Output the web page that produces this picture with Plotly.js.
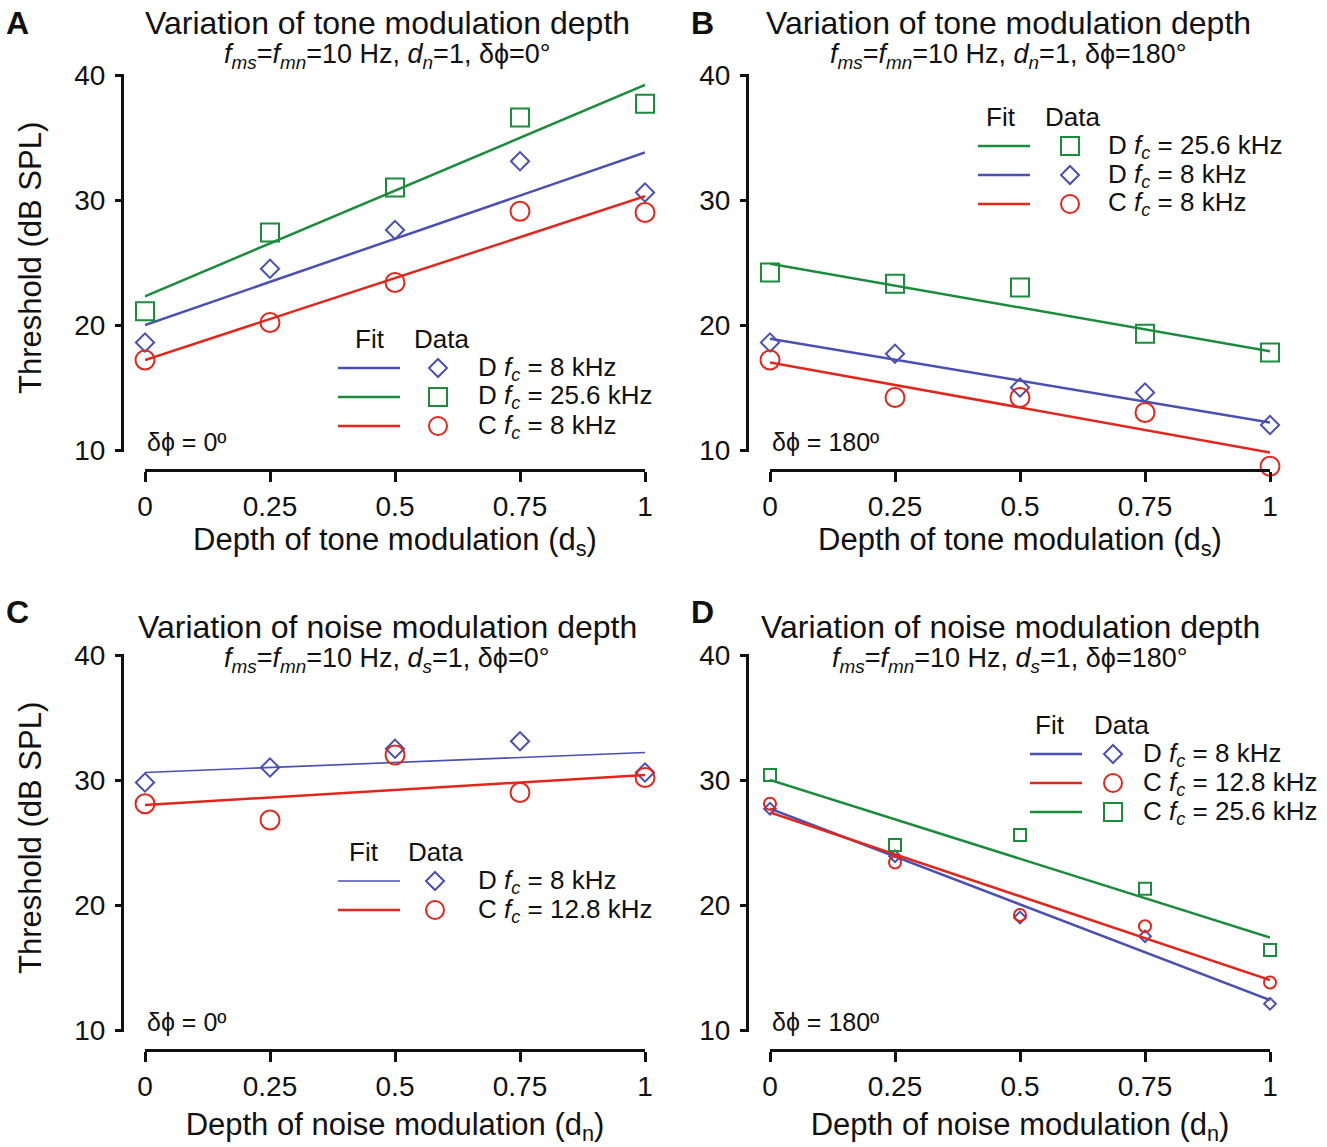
<!DOCTYPE html>
<html>
<head>
<meta charset="utf-8">
<script src="https://cdn.plot.ly/plotly-3.0.1.min.js"></script>
<style>html,body{margin:0;padding:0;background:#fff}#chart{width:1327px;height:1147px}</style>
</head>
<body>
<div id="chart"></div>
<script>
// ---------- data ----------
const depth = [0, 0.25, 0.5, 0.75, 1];
const fitX = [0, 1];
const xTickVals = [0, 0.25, 0.5, 0.75, 1];
const xTickText = ['0', '0.25', '0.5', '0.75', '1'];
const yTickVals = [10, 20, 30, 40];

// Panel A: tone modulation depth, δϕ = 0°
const aD8 = [18.6, 24.5, 27.6, 33.1, 30.6];
const aD8Fit = [20.0, 33.8];
const aD256 = [21.1, 27.4, 31.0, 36.6, 37.7];
const aD256Fit = [22.3, 39.2];
const aC8 = [17.2, 20.2, 23.4, 29.1, 29.0];
const aC8Fit = [17.2, 30.3];

// Panel B: tone modulation depth, δϕ = 180°
const bD256 = [24.2, 23.3, 23.0, 19.3, 17.8];
const bD256Fit = [24.9, 17.9];
const bD8 = [18.6, 17.7, 15.0, 14.6, 12.0];
const bD8Fit = [18.9, 12.2];
const bC8 = [17.2, 14.2, 14.2, 13.0, 8.7];
const bC8Fit = [17.0, 9.8];

// Panel C: noise modulation depth, δϕ = 0°
const cD8 = [29.8, 31.0, 32.5, 33.1, 30.6];
const cD8Fit = [30.6, 32.2];
const cC128 = [28.1, 26.8, 32.0, 29.0, 30.2];
const cC128Fit = [28.0, 30.4];

// Panel D: noise modulation depth, δϕ = 180°
const dD8 = [27.7, 23.9, 19.0, 17.5, 12.1];
const dD8Fit = [27.7, 12.4];
const dC128 = [28.1, 23.4, 19.2, 18.3, 13.8];
const dC128Fit = [27.4, 14.0];
const dC256 = [30.4, 24.8, 25.6, 21.3, 16.4];
const dC256Fit = [30.0, 17.4];

// ---------- styling ----------
const W = 1327, H = 1147;
const GREEN = '#1b8c3c', BLUE = '#4a4fb2', RED = '#e1271c';
const FONT = 'Liberation Sans, Arial, Helvetica, sans-serif';
const px = v => v / W;
const py = v => 1 - v / H;
const PXPERDB = 12.5;   // 375 px for 30 dB
const EXTRA = 20;       // extra plot height below 10 dB (px)

const traces = [];
function addSeries(ax, ys, fitYs, color, symbol, size, lw) {
  traces.push({x: fitX, y: fitYs, xaxis: 'x' + ax, yaxis: 'y' + ax, type: 'scatter', mode: 'lines',
    showlegend: false, hoverinfo: 'skip', line: {color: color, width: lw}});
  traces.push({x: depth, y: ys, xaxis: 'x' + ax, yaxis: 'y' + ax, type: 'scatter', mode: 'markers',
    cliponaxis: false, showlegend: false, hoverinfo: 'skip',
    marker: {symbol: symbol, size: size, color: color, line: {color: color, width: 2}}});
}
addSeries('', aD8, aD8Fit, BLUE, 'diamond-open', 14, 2.5);
addSeries('', aD256, aD256Fit, GREEN, 'square-open', 18, 2.5);
addSeries('', aC8, aC8Fit, RED, 'circle-open', 19, 2.5);

addSeries('2', bD256, bD256Fit, GREEN, 'square-open', 18, 2.5);
addSeries('2', bD8, bD8Fit, BLUE, 'diamond-open', 14, 2.5);
addSeries('2', bC8, bC8Fit, RED, 'circle-open', 19, 2.5);

addSeries('3', cD8, cD8Fit, BLUE, 'diamond-open', 14, 1.6);
addSeries('3', cC128, cC128Fit, RED, 'circle-open', 19, 2.5);

addSeries('4', dD8, dD8Fit, BLUE, 'diamond-open', 9, 2.5);
addSeries('4', dC128, dC128Fit, RED, 'circle-open', 12, 2.5);
addSeries('4', dC256, dC256Fit, GREEN, 'square-open', 12, 2.5);

const panels = [
  {k: '', xl: 145, xr: 645, yt: 75, yb: 450, yAx: 124, xAx: 470, xt: 'Depth of tone modulation (d<sub>s</sub>)', yt2: true, st: 6},
  {k: '2', xl: 770, xr: 1270, yt: 75, yb: 450, yAx: 749, xAx: 470, xt: 'Depth of tone modulation (d<sub>s</sub>)', yt2: false, st: 6},
  {k: '3', xl: 145, xr: 645, yt: 655, yb: 1030, yAx: 124, xAx: 1050, xt: 'Depth of noise modulation (d<sub>n</sub>)', yt2: true, st: 12},
  {k: '4', xl: 770, xr: 1270, yt: 655, yb: 1030, yAx: 749, xAx: 1050, xt: 'Depth of noise modulation (d<sub>n</sub>)', yt2: false, st: 12}
];

const layout = {
  width: W, height: H, margin: {l: 0, r: 0, t: 0, b: 0},
  paper_bgcolor: '#fff', plot_bgcolor: 'rgba(0,0,0,0)',
  font: {family: FONT, color: '#111', size: 24},
  showlegend: false, shapes: [], annotations: []
};

function ann(text, x, y, size, xanchor, opts) {
  layout.annotations.push(Object.assign({text: text, x: px(x), y: py(y), xref: 'paper', yref: 'paper',
    xanchor: xanchor || 'center', yanchor: 'middle', showarrow: false,
    font: {size: size, color: '#111', family: FONT}}, opts || {}));
}

panels.forEach(p => {
  const xa = 'xaxis' + p.k, ya = 'yaxis' + p.k;
  layout[xa] = {
    domain: [px(p.xl), px(p.xr)], range: [0, 1], anchor: 'free', position: py(p.xAx),
    showline: true, linecolor: '#111', linewidth: 3, showgrid: false, zeroline: false,
    ticks: 'outside', ticklen: 10, tickwidth: 3, tickcolor: '#111',
    tickvals: xTickVals, ticktext: xTickText, tickfont: {size: 28, color: '#111'},
    ticklabelstandoff: 0,
    title: {text: p.xt, font: {size: 31, color: '#111'}, standoff: p.st}
  };
  layout[ya] = {
    domain: [py(p.yb + EXTRA), py(p.yt)], range: [10 - EXTRA / PXPERDB, 40], anchor: 'free', position: px(p.yAx),
    showline: false, showgrid: false, zeroline: false,
    ticks: 'outside', ticklen: 9, tickwidth: 3, tickcolor: '#111',
    tickvals: yTickVals, tickfont: {size: 28, color: '#111'}, ticklabelstandoff: 4,
    title: {text: ''}
  };
  // y spine spanning only 10..40 dB
  layout.shapes.push({type: 'line', xref: 'paper', yref: 'y' + p.k, x0: px(p.yAx - 1.5), x1: px(p.yAx - 1.5),
    y0: 10 - 1.5 / PXPERDB, y1: 40 + 1.5 / PXPERDB, line: {color: '#111', width: 3}});
  if (p.yt2) ann('Threshold (dB SPL)', 30, p.yt + 183, 31, 'center', {textangle: -90});
});

// panel letters
ann('<b>A</b>', 17, 23, 32);
ann('<b>B</b>', 702, 23, 32);
ann('<b>C</b>', 17, 612, 32);
ann('<b>D</b>', 702, 612, 32);

// panel titles
const sub = (dname, ph) => '<i>f</i><sub><i>ms</i></sub>=<i>f</i><sub><i>mn</i></sub>=10 Hz, <i>d</i><sub><i>' + dname + '</i></sub>=1, δϕ=' + ph + '°';
ann('Variation of tone modulation depth', 387, 23, 32);
ann(sub('n', '0'), 387, 56, 27);
ann('Variation of tone modulation depth', 1008, 23, 32);
ann(sub('n', '180'), 1008, 56, 27);
ann('Variation of noise modulation depth', 387, 627, 32);
ann(sub('s', '0'), 387, 660, 27);
ann('Variation of noise modulation depth', 1010, 627, 32);
ann(sub('s', '180'), 1010, 660, 27);

// phase labels
ann('δϕ = 0º', 145, 442, 25, 'left');
ann('δϕ = 180º', 770, 442, 25, 'left');
ann('δϕ = 0º', 145, 1022, 25, 'left');
ann('δϕ = 180º', 770, 1022, 25, 'left');

// legends
function legSym(kind, cx, cy, color, half) {
  const s = {xref: 'paper', yref: 'paper', line: {color: color, width: 2}, fillcolor: 'rgba(0,0,0,0)'};
  if (kind === 'square') Object.assign(s, {type: 'rect', x0: px(cx - half), x1: px(cx + half), y0: py(cy + half), y1: py(cy - half)});
  else if (kind === 'circle') Object.assign(s, {type: 'circle', x0: px(cx - half), x1: px(cx + half), y0: py(cy + half), y1: py(cy - half)});
  else Object.assign(s, {type: 'path', path: 'M' + px(cx) + ',' + py(cy - half) + ' L' + px(cx + half) + ',' + py(cy) + ' L' + px(cx) + ',' + py(cy + half) + ' L' + px(cx - half) + ',' + py(cy) + ' Z'});
  layout.shapes.push(s);
}
function legend(hx, hy, lx0, lx1, mx, tx, rows, fitDataGap) {
  ann('Fit', hx, hy, 26);
  ann('Data', hx + fitDataGap, hy, 26);
  rows.forEach((r, i) => {
    const y = hy + 29 + 29 * i;
    layout.shapes.push({type: 'line', xref: 'paper', yref: 'paper', x0: px(lx0), x1: px(lx1), y0: py(y), y1: py(y), line: {color: r.color, width: r.lw || 2.5}});
    legSym(r.kind, mx, y, r.color, r.half || 9);
    ann(r.label, tx, y, 26, 'left');
  });
}
const fc = (pre, val) => pre + ' <i>f</i><sub><i>c</i></sub> = ' + val + ' kHz';
legend(370, 339, 338, 400, 438, 476, [
  {color: BLUE, kind: 'diamond', label: fc('D', '8'), half: 9},
  {color: GREEN, kind: 'square', label: fc('D', '25.6')},
  {color: RED, kind: 'circle', label: fc('C', '8')}
], 71);
legend(1001, 117, 978, 1030, 1070, 1106, [
  {color: GREEN, kind: 'square', label: fc('D', '25.6')},
  {color: BLUE, kind: 'diamond', label: fc('D', '8'), half: 9},
  {color: RED, kind: 'circle', label: fc('C', '8')}
], 71);
legend(364, 852, 338, 400, 435, 476, [
  {color: BLUE, kind: 'diamond', label: fc('D', '8'), half: 9, lw: 1.6},
  {color: RED, kind: 'circle', label: fc('C', '12.8')}
], 71);
legend(1050, 725, 1030, 1082, 1113, 1141, [
  {color: BLUE, kind: 'diamond', label: fc('D', '8'), half: 9},
  {color: RED, kind: 'circle', label: fc('C', '12.8')},
  {color: GREEN, kind: 'square', label: fc('C', '25.6')}
], 71);

Plotly.newPlot('chart', traces, layout, {staticPlot: true, displayModeBar: false});
</script>
</body>
</html>
